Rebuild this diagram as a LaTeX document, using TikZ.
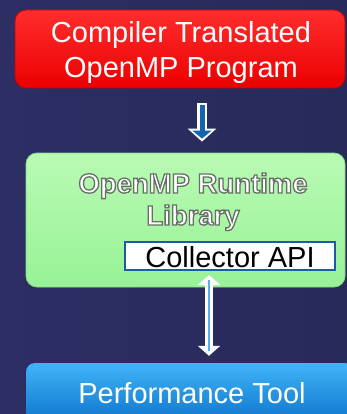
\documentclass[tikz,border=0pt]{standalone}
\usepackage{fontspec}
\setmainfont{Liberation Sans}
\usetikzlibrary{arrows.meta}
\definecolor{bgL}{RGB}{44,46,100}
\definecolor{bgR}{RGB}{40,42,90}
\definecolor{redT}{RGB}{255,45,45}
\definecolor{redM}{RGB}{255,5,5}
\definecolor{redB}{RGB}{235,0,0}
\definecolor{redE}{RGB}{200,0,0}
\definecolor{grnT}{RGB}{185,250,180}
\definecolor{grnM}{RGB}{160,245,156}
\definecolor{grnB}{RGB}{152,242,150}
\definecolor{grnE}{RGB}{130,220,130}
\definecolor{bluT}{RGB}{65,180,248}
\definecolor{bluM}{RGB}{25,130,215}
\definecolor{bluB}{RGB}{10,112,200}
\definecolor{colE}{RGB}{30,90,165}
\definecolor{arrB}{RGB}{20,100,175}
\definecolor{arrL}{RGB}{90,170,240}
\newcommand\embosstext[1]{\special{pdf:literal direct 2 Tr 1.3 w 0.40 0.44 0.40 RG}#1\special{pdf:literal direct 0 Tr}}
\tikzset{
  panel/.style={rounded corners=11pt, inner sep=0pt},
  redbox/.style={panel, top color=redT, middle color=redM, bottom color=redB, draw=redE, line width=0.8pt},
  greenbox/.style={panel, top color=grnT, middle color=grnM, bottom color=grnB, draw=grnE, line width=0.8pt},
  bluebox/.style={panel, rounded corners=9pt, top color=bluT, middle color=bluM, bottom color=bluB},
  colbox/.style={draw=colE, line width=2pt, fill=white, inner sep=0pt},
  bigtext/.style={font=\fontsize{29pt}{35pt}\selectfont, inner sep=0pt, align=center},
  libtext/.style={font=\fontsize{27.5pt}{32pt}\selectfont\bfseries, inner sep=0pt, align=center},
  whitearrow/.style={white, line width=10pt, -{Triangle[width=28pt,length=13pt]}},
  bluearrow/.style={arrB, line width=5pt, -{Triangle[width=19pt,length=8pt]}},
  dblarrow/.style={white, line width=8pt, {Triangle[width=22pt,length=10pt]}-{Triangle[width=22pt,length=10pt]}},
  dblinner/.style={arrL, line width=2.5pt}
}
\begin{document}
\begin{tikzpicture}[x=1pt,y=-1pt]
\useasboundingbox (0,0) rectangle (347,414);
\clip (0,0) rectangle (347,414);
\shade[left color=bgL, right color=bgR] (0,0) rectangle (347,414);

% boxes
\node[redbox, minimum width=330pt, minimum height=78pt] (red) at (180,49) {};
\node[greenbox, minimum width=319pt, minimum height=134pt] (green) at (185.5,220) {};
\node[bluebox, minimum width=328pt, minimum height=64pt] (perf) at (190,395) {};
\node[colbox, minimum width=210pt, minimum height=28pt] (col) at (230,256) {};

% texts
\node[bigtext, white] (redtext) at (181,53) {Compiler Translated\\OpenMP Program};
\node[libtext, white] (libtext) at (193,201.8) {\embosstext{OpenMP Runtime}\\\embosstext{Library}};
\node[bigtext, black, anchor=base] (coltext) at (230,267) {Collector API};
\node[bigtext, white, anchor=base] (perftext) at (192,403) {Performance Tool};

% connectors
\draw[whitearrow, shorten <=15pt, shorten >=11pt] ([xshift=22pt]red.south) -- ([xshift=16.5pt]green.north);
\draw[bluearrow, shorten <=17pt, shorten >=14pt] ([xshift=22pt]red.south) -- ([xshift=16.5pt]green.north);
\draw[dblarrow, shorten <=4pt, shorten >=7pt] ([xshift=-21pt]col.south) -- ([xshift=19pt]perf.north);
\draw[dblinner, shorten <=9pt, shorten >=12pt] ([xshift=-21pt]col.south) -- ([xshift=19pt]perf.north);
\end{tikzpicture}
\end{document}
